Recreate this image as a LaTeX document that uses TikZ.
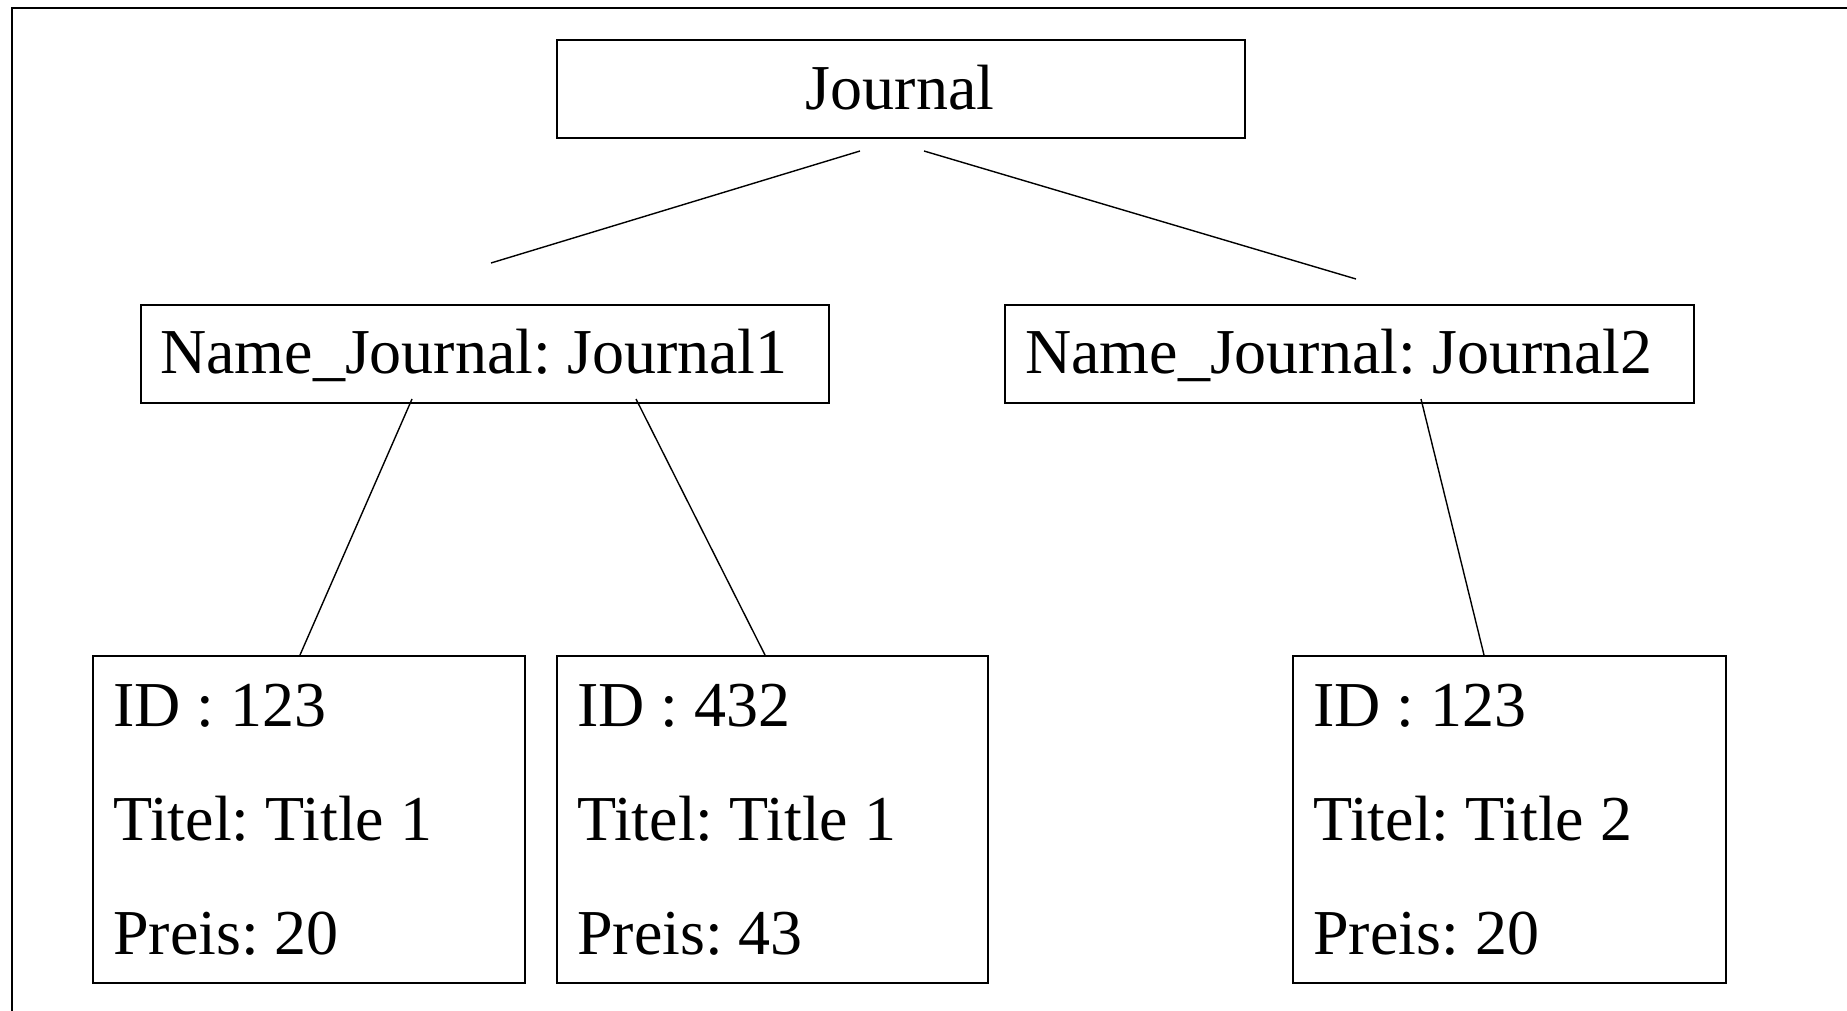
\documentclass[tikz,border=0pt]{standalone}
\usepackage{fontspec}
\setmainfont{Liberation Serif}
\frenchspacing
\begin{document}
\begin{tikzpicture}[x=1pt,y=-1pt,
  box/.style={draw, line width=1.6pt, inner sep=0pt, anchor=north west},
  lbl/.style={font=\fontsize{64}{70}\selectfont\frenchspacing, inner sep=0pt, anchor=base west},
  link/.style={line width=1.4pt}]
\useasboundingbox (0,0) rectangle (1847,1011);
\draw[line width=2pt] (1847,8) -- (12,8) -- (12,1011);
% boxes
\node[box, minimum width=688pt, minimum height=98pt] (J) at (556,39) {};
\node[box, minimum width=688pt, minimum height=98pt] (J1) at (140,304) {};
\node[box, minimum width=689pt, minimum height=98pt] (J2) at (1004,304) {};
\node[box, minimum width=432pt, minimum height=327pt] (B1) at (92,655) {};
\node[box, minimum width=431pt, minimum height=327pt] (B2) at (556,655) {};
\node[box, minimum width=433pt, minimum height=327pt] (B3) at (1292,655) {};
% texts
\node[lbl, anchor=base] (Jt) at (900,110) {Journal};
\node[lbl] (J1t) at (160,373) {Name\_Journal: Journal1};
\node[lbl] (J2t) at (1025,373) {Name\_Journal: Journal2};
\node[lbl] (B1a) at (113,726) {ID : 123};
\node[lbl] (B1b) at (113,840) {Titel: Title 1};
\node[lbl] (B1c) at (113,954) {Preis: 20};
\node[lbl] (B2a) at (577,726) {ID : 432};
\node[lbl] (B2b) at (577,840) {Titel: Title 1};
\node[lbl] (B2c) at (577,954) {Preis: 43};
\node[lbl] (B3a) at (1313,726) {ID : 123};
\node[lbl] (B3b) at (1313,840) {Titel: Title 2};
\node[lbl] (B3c) at (1313,954) {Preis: 20};
% connector end points
\coordinate (Ja) at (860,151);
\coordinate (Jb) at (924,151);
\coordinate (J1in) at (491,263);
\coordinate (J2in) at (1356,279);
\coordinate (J1a) at (412,399);
\coordinate (J1b) at (636,399);
\coordinate (J2a) at (1421,399);
\coordinate (B1in) at (300,655);
\coordinate (B2in) at (765,655);
\coordinate (B3in) at (1484,655);
\draw[link] (Ja) -- (J1in);
\draw[link] (Jb) -- (J2in);
\draw[link] (J1a) -- (B1in);
\draw[link] (J1b) -- (B2in);
\draw[link] (J2a) -- (B3in);
\end{tikzpicture}
\end{document}
